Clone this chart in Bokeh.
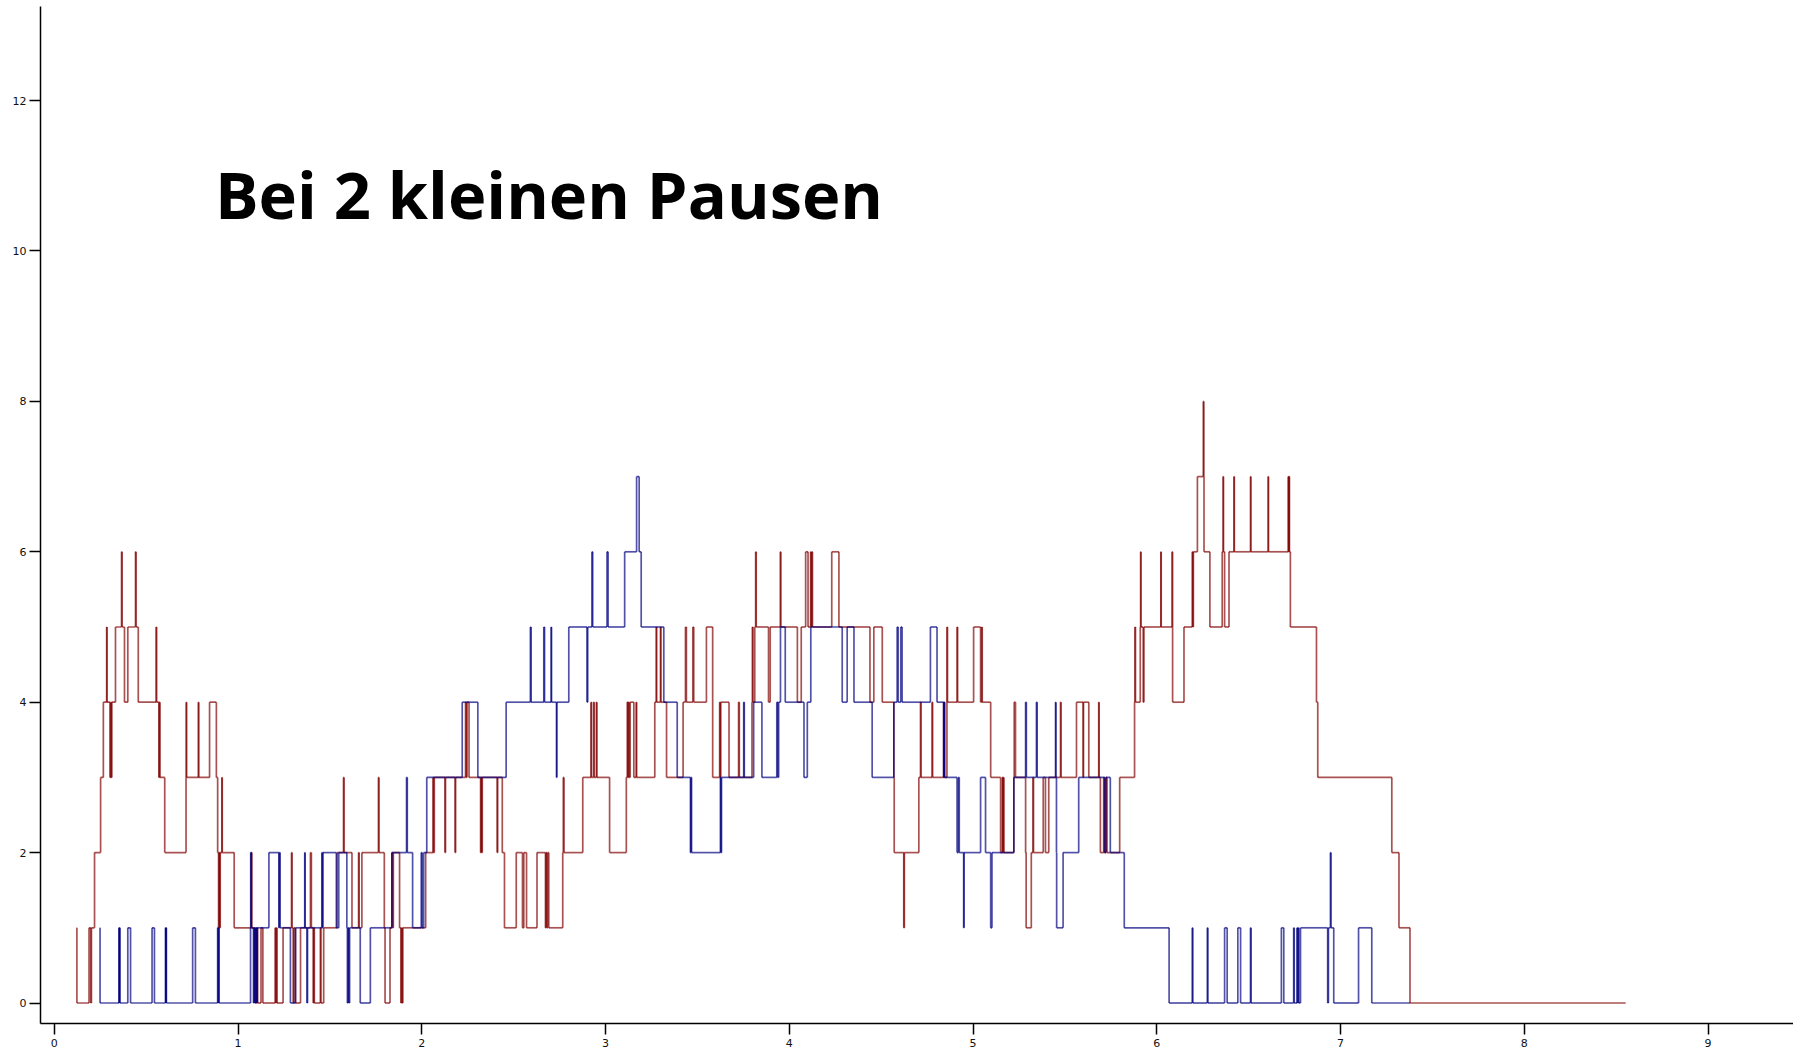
from bokeh.plotting import figure
from bokeh.models import Range1d, FixedTicker, Label, ColumnDataSource
from bokeh.embed import file_html
from bokeh.resources import INLINE

# ---- data (step series: time of change, value after change) ----
red_x = [
    0.122, 0.123, 0.189, 0.198, 0.202, 0.219, 0.252, 0.267, 0.285, 0.287,
    0.303, 0.307, 0.310, 0.313, 0.333, 0.366, 0.369, 0.382, 0.400, 0.442,
    0.445, 0.457, 0.554, 0.557, 0.569, 0.572, 0.575, 0.601, 0.717, 0.718,
    0.720, 0.784, 0.786, 0.845, 0.882, 0.889, 0.894, 0.897, 0.900, 0.903,
    0.912, 0.914, 0.979, 1.072, 1.075, 1.092, 1.095, 1.098, 1.103, 1.106,
    1.125, 1.135, 1.202, 1.205, 1.209, 1.212, 1.245, 1.291, 1.294, 1.300,
    1.304, 1.312, 1.340, 1.394, 1.399, 1.409, 1.412, 1.415, 1.448, 1.451,
    1.466, 1.539, 1.574, 1.577, 1.620, 1.656, 1.659, 1.674, 1.764, 1.767,
    1.796, 1.800, 1.827, 1.837, 1.841, 1.845, 1.879, 1.886, 1.890, 1.893,
    1.897, 2.021, 2.061, 2.064, 2.068, 2.126, 2.129, 2.181, 2.184, 2.238,
    2.242, 2.246, 2.257, 2.320, 2.323, 2.326, 2.329, 2.410, 2.413, 2.438,
    2.450, 2.514, 2.548, 2.555, 2.570, 2.627, 2.673, 2.676, 2.680, 2.685,
    2.691, 2.767, 2.770, 2.774, 2.876, 2.921, 2.923, 2.935, 2.938, 2.950,
    2.953, 3.022, 3.113, 3.118, 3.122, 3.125, 3.129, 3.134, 3.154, 3.167,
    3.169, 3.268, 3.276, 3.278, 3.299, 3.301, 3.332, 3.422, 3.435, 3.440,
    3.475, 3.480, 3.549, 3.583, 3.621, 3.624, 3.627, 3.672, 3.724, 3.728,
    3.797, 3.799, 3.802, 3.812, 3.817, 3.820, 3.887, 3.896, 3.951, 3.954,
    4.044,
    4.065, 4.089, 4.102, 4.116, 4.119, 4.123, 4.126, 4.231, 4.270, 4.439,
    4.460, 4.506, 4.569, 4.571, 4.623, 4.626, 4.705, 4.714, 4.717, 4.777,
    4.780, 4.840, 4.843, 4.858, 4.861, 4.913, 4.916, 5.003, 5.041, 5.047,
    5.050, 5.096, 5.150, 5.159, 5.162, 5.165, 5.168, 5.222, 5.224, 5.231,
    5.286, 5.289, 5.317, 5.326, 5.329, 5.382, 5.394, 5.412, 5.476, 5.479,
    5.563, 5.599, 5.601, 5.630, 5.684, 5.686, 5.693, 5.711, 5.714, 5.725,
    5.729, 5.798, 5.879, 5.881, 5.884, 5.910, 5.912, 5.914, 5.926, 5.930,
    6.022, 6.024, 6.083, 6.086, 6.148, 6.193, 6.196, 6.199, 6.221, 6.253,
    6.256, 6.257, 6.289, 6.356, 6.361, 6.363, 6.369, 6.393, 6.420, 6.422,
    6.510, 6.512, 6.606, 6.608, 6.715, 6.718, 6.720, 6.722, 6.727, 6.869,
    6.876, 7.279, 7.318, 7.378, 8.552,
]
red_y = [
    1, 0, 1, 0, 1, 2, 3, 4, 5, 4,
    3, 4, 3, 4, 5, 6, 5, 4, 5, 6,
    5, 4, 5, 4, 3, 4, 3, 2, 3, 4,
    3, 4, 3, 4, 3, 2, 1, 2, 1, 2,
    3, 2, 1, 2, 1, 0, 1, 0, 1, 0,
    1, 0, 1, 0, 1, 0, 1, 2, 1, 0,
    1, 0, 1, 2, 1, 0, 1, 0, 1, 0,
    1, 2, 3, 2, 1, 2, 1, 2, 3, 2,
    1, 0, 1, 2, 1, 2, 1, 0, 1, 0,
    1, 2, 3, 2, 3, 2, 3, 2, 3, 4,
    3, 4, 3, 2, 3, 2, 3, 2, 3, 2,
    1, 2, 1, 2, 1, 2, 1, 2, 1, 2,
    1, 2, 3, 2, 3, 4, 3, 4, 3, 4,
    3, 2, 3, 4, 3, 4, 3, 4, 3, 4,
    3, 4, 5, 4, 5, 4, 3, 4, 5, 4,
    5, 4, 5, 3, 4, 3, 4, 3, 4, 3,
    4, 5, 4, 5, 6, 5, 4, 5, 6, 5,
    4,
    5, 6, 5, 6, 5, 6, 5, 6, 5, 4,
    5, 4, 3, 2, 1, 2, 3, 4, 3, 4,
    3, 4, 3, 5, 4, 5, 4, 5, 4, 5,
    4, 3, 2, 3, 2, 3, 2, 3, 4, 3,
    2, 1, 2, 3, 2, 3, 2, 3, 4, 3,
    4, 3, 4, 3, 4, 3, 2, 3, 2, 3,
    2, 3, 4, 5, 4, 5, 6, 5, 4, 5,
    6, 5, 6, 4, 5, 6, 5, 6, 7, 8,
    7, 6, 5, 6, 7, 6, 5, 6, 7, 6,
    7, 6, 7, 6, 7, 6, 7, 6, 5, 4,
    3, 2, 1, 0, 0,
]

blue_x = [
    0.248, 0.249, 0.352, 0.354, 0.355, 0.357, 0.400, 0.415, 0.532, 0.545,
    0.605, 0.607, 0.608, 0.610, 0.753, 0.768, 0.889, 0.892, 0.894, 0.897,
    1.068, 1.069, 1.072, 1.084, 1.087, 1.090, 1.097, 1.102, 1.105, 1.168,
    1.222, 1.225, 1.229, 1.285, 1.313, 1.363, 1.365, 1.375, 1.378, 1.456,
    1.459, 1.462, 1.535, 1.548, 1.592, 1.595, 1.599, 1.603, 1.607, 1.665,
    1.720, 1.837, 1.917, 1.921, 1.950, 1.997, 2.002, 2.010, 2.027, 2.220,
    2.305, 2.459, 2.591, 2.595, 2.664, 2.668, 2.704, 2.706, 2.733, 2.735,
    2.800, 2.899, 2.903, 2.926, 2.930, 3.008, 3.014, 3.104, 3.169, 3.183,
    3.194, 3.317, 3.390, 3.462, 3.465, 3.468, 3.625, 3.628, 3.631, 3.752,
    3.755, 3.806, 3.851, 3.932, 3.937, 3.942, 3.952, 3.978, 4.080, 4.098,
    4.117, 4.288, 4.315, 4.352, 4.451, 4.569, 4.587, 4.593, 4.607, 4.614,
    4.768, 4.804, 4.840, 4.843, 4.846, 4.913, 4.920, 4.925, 4.949, 4.951,
    5.041, 5.068, 5.096, 5.103, 5.222, 5.286, 5.290, 5.345, 5.349, 5.449,
    5.451, 5.454, 5.455, 5.490, 5.575, 5.717, 5.722, 5.747, 5.823, 6.067,
    6.193, 6.196, 6.275, 6.278, 6.369, 6.383, 6.441, 6.456, 6.510, 6.513,
    6.678, 6.691, 6.745, 6.748, 6.763, 6.766, 6.770, 6.773, 6.782, 6.930,
    6.934, 6.945, 6.948, 6.963, 7.098, 7.170, 7.378,
]
blue_y = [
    1, 0, 1, 0, 1, 0, 1, 0, 1, 0,
    1, 0, 1, 0, 1, 0, 1, 0, 1, 0,
    1, 2, 1, 0, 1, 0, 1, 0, 1, 2,
    1, 2, 1, 0, 1, 2, 1, 0, 1, 2,
    1, 2, 1, 2, 1, 0, 1, 0, 1, 0,
    1, 2, 3, 2, 1, 2, 1, 2, 3, 4,
    3, 4, 5, 4, 5, 4, 5, 4, 3, 4,
    5, 4, 5, 6, 5, 6, 5, 6, 7, 6,
    5, 4, 3, 2, 3, 2, 3, 2, 3, 4,
    3, 4, 3, 4, 3, 4, 5, 4, 3, 4,
    5, 4, 5, 4, 3, 4, 5, 4, 5, 4,
    5, 4, 3, 4, 3, 2, 3, 2, 1, 2,
    3, 2, 1, 2, 3, 4, 3, 4, 3, 4,
    3, 2, 1, 2, 3, 2, 3, 2, 1, 0,
    1, 0, 1, 0, 1, 0, 1, 0, 1, 0,
    1, 0, 1, 0, 1, 0, 1, 0, 1, 0,
    1, 2, 1, 0, 1, 0, 0,
]

x_ticks = [0, 1, 2, 3, 4, 5, 6, 7, 8, 9]
y_ticks = [0, 2, 4, 6, 8, 10, 12]
title_text = "Bei 2 kleinen Pausen"


def step_segments(xs, ys):
    """Split a step series (value holds until next change) into
    horizontal and vertical pieces so overlapping strokes darken."""
    x0, y0, x1, y1 = [], [], [], []
    for i in range(len(xs) - 1):
        x0.append(xs[i]); y0.append(ys[i]); x1.append(xs[i + 1]); y1.append(ys[i])
        x0.append(xs[i + 1]); y0.append(ys[i]); x1.append(xs[i + 1]); y1.append(ys[i + 1])
    return ColumnDataSource(dict(x0=x0, y0=y0, x1=x1, y1=y1))


p = figure(
    frame_width=1753, frame_height=1017,
    output_backend="svg", toolbar_location=None,
    x_range=Range1d(-0.0751, 9.4651), y_range=Range1d(-0.2726, 13.251),
    min_border_left=40, min_border_right=0, min_border_top=6, min_border_bottom=30,
    background_fill_color="white", border_fill_color="white",
)
p.outline_line_color = None
p.xgrid.visible = False
p.ygrid.visible = False

p.segment("x0", "y0", "x1", "y1", source=step_segments(red_x, red_y),
          line_color="#800000", line_width=1.7, line_alpha=0.68)
p.segment("x0", "y0", "x1", "y1", source=step_segments(blue_x, blue_y),
          line_color="#000080", line_width=1.7, line_alpha=0.68)

for ax in (p.xaxis[0], p.yaxis[0]):
    ax.axis_line_color = "#000000"
    ax.axis_line_width = 1.5
    ax.major_tick_line_color = "#000000"
    ax.major_tick_line_width = 1.5
    ax.major_tick_out = 11
    ax.major_tick_in = 0
    ax.minor_tick_line_color = None
    ax.major_label_text_font = "DejaVu Sans"
    ax.major_label_text_font_size = "11px"
    ax.major_label_text_color = "#111111"

p.xaxis.ticker = FixedTicker(ticks=x_ticks)
p.yaxis.ticker = FixedTicker(ticks=y_ticks)
p.xaxis.major_label_standoff = 4
p.yaxis.major_label_standoff = 3

p.add_layout(Label(
    x=0.874, y=10.76, text=title_text,
    text_font="Open Sans", text_font_style="bold", text_font_size="65px",
    text_color="#000000", text_align="left", text_baseline="alphabetic",
))

open("out.html", "w").write(file_html(p, INLINE))
